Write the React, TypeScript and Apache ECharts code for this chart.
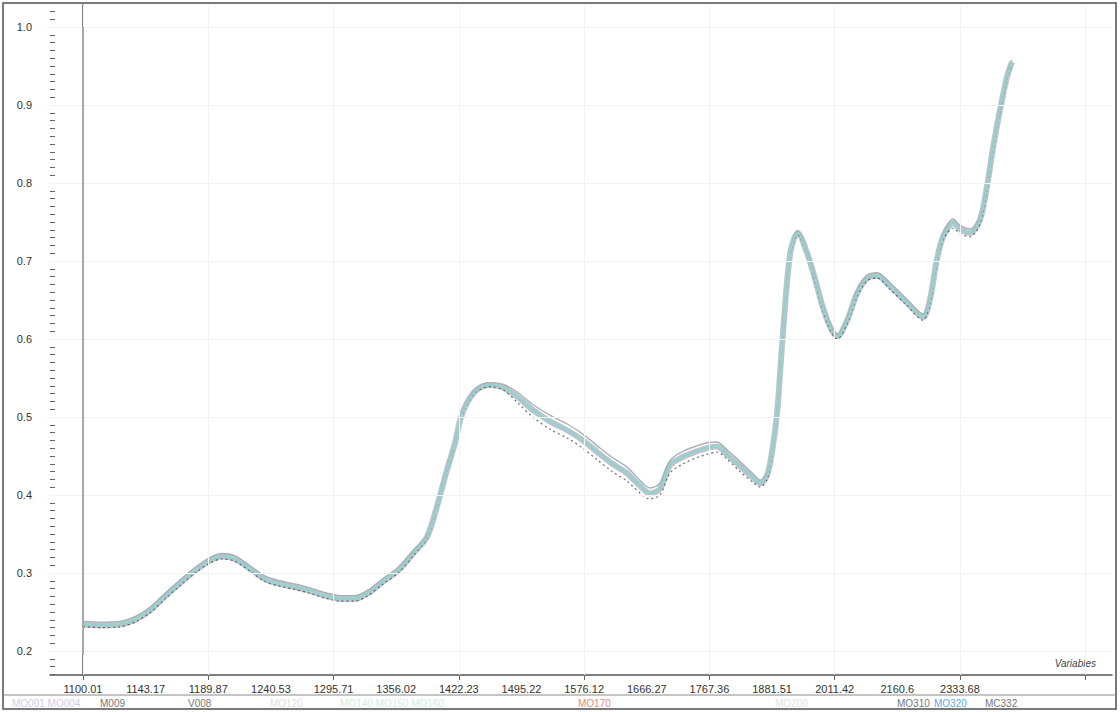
import React, { useEffect, useRef } from "react";
import * as echarts from "echarts";

// Variable index (position along the spectrum) of each sampled point
const variableIndex = [0, 2.7, 5.9, 8.3, 10.7, 13.1, 15.5, 17.9, 20.3, 22.2, 24.3, 26.7, 29.1, 31.4, 33.8, 36.2, 38.6, 41.0, 43.4, 45.5, 47.9, 50.3, 52.7, 54.9, 56.5, 58.1, 59.4, 60.2, 61.3, 62.9, 65.0, 67.0, 69.3, 71.8, 74.6, 77.3, 79.8, 82.1, 84.5, 86.8, 89.4, 90.5, 92.1, 93.7, 95.8, 98.0, 99.6, 101.2, 102.8, 104.9, 107.0, 108.1, 109.2, 110.0, 110.8, 111.7, 112.9, 114.1, 115.6, 116.9, 118.1, 119.3, 120.4, 122.0, 123.6, 125.2, 126.8, 128.8, 131.5, 134.1, 135.2, 136.3, 137.3, 138.9, 140.0, 141.6, 143.2, 144.3, 145.3, 146.4, 147.5, 148.3];

const meanSpectrum = [0.234, 0.233, 0.234, 0.240, 0.252, 0.270, 0.287, 0.303, 0.316, 0.321, 0.318, 0.305, 0.292, 0.286, 0.282, 0.277, 0.271, 0.267, 0.267, 0.274, 0.289, 0.303, 0.325, 0.346, 0.385, 0.432, 0.467, 0.496, 0.518, 0.535, 0.541, 0.538, 0.526, 0.509, 0.494, 0.483, 0.470, 0.455, 0.440, 0.428, 0.408, 0.402, 0.408, 0.438, 0.449, 0.456, 0.460, 0.462, 0.452, 0.437, 0.422, 0.415, 0.425, 0.455, 0.505, 0.603, 0.710, 0.736, 0.710, 0.676, 0.641, 0.615, 0.603, 0.624, 0.659, 0.678, 0.681, 0.668, 0.647, 0.628, 0.650, 0.701, 0.731, 0.749, 0.741, 0.736, 0.753, 0.795, 0.846, 0.894, 0.936, 0.955];

const lowSpectrum = [0.231, 0.230, 0.231, 0.237, 0.249, 0.267, 0.284, 0.300, 0.313, 0.318, 0.315, 0.302, 0.289, 0.283, 0.279, 0.274, 0.268, 0.264, 0.264, 0.271, 0.286, 0.300, 0.322, 0.344, 0.383, 0.430, 0.465, 0.494, 0.516, 0.533, 0.539, 0.535, 0.519, 0.500, 0.484, 0.473, 0.460, 0.445, 0.430, 0.418, 0.399, 0.395, 0.400, 0.428, 0.440, 0.448, 0.452, 0.455, 0.446, 0.430, 0.416, 0.410, 0.420, 0.452, 0.503, 0.600, 0.707, 0.733, 0.708, 0.672, 0.637, 0.611, 0.600, 0.620, 0.655, 0.675, 0.678, 0.664, 0.643, 0.624, 0.645, 0.697, 0.727, 0.742, 0.735, 0.731, 0.748, 0.790, 0.842, 0.890, 0.933, 0.952];

const highSpectrum = [0.238, 0.237, 0.238, 0.244, 0.256, 0.274, 0.291, 0.307, 0.320, 0.325, 0.322, 0.309, 0.296, 0.290, 0.286, 0.281, 0.275, 0.271, 0.271, 0.278, 0.293, 0.307, 0.328, 0.349, 0.388, 0.435, 0.470, 0.499, 0.521, 0.538, 0.544, 0.542, 0.532, 0.516, 0.502, 0.491, 0.478, 0.463, 0.448, 0.436, 0.415, 0.409, 0.415, 0.444, 0.456, 0.463, 0.467, 0.468, 0.458, 0.443, 0.427, 0.419, 0.429, 0.459, 0.508, 0.606, 0.713, 0.739, 0.713, 0.680, 0.645, 0.619, 0.606, 0.628, 0.663, 0.682, 0.685, 0.672, 0.651, 0.632, 0.654, 0.705, 0.735, 0.754, 0.746, 0.741, 0.757, 0.800, 0.850, 0.898, 0.939, 0.958];

// Tick labels (wavelengths) every 10 variables
const labelIndex = [0, 10, 20, 30, 40, 50, 60, 70, 80, 90, 100, 110, 120, 130, 140];
const wavelengthLabels = ["1100.01", "1143.17", "1189.87", "1240.53", "1295.71", "1356.02", "1422.23", "1495.22", "1576.12", "1666.27", "1767.36", "1881.51", "2011.42", "2160.6", "2333.68"];
const xTickIndex = [0, 20, 40, 60, 80, 100, 120, 140, 160];
const yTickValues = [0.2, 0.3, 0.4, 0.5, 0.6, 0.7, 0.8, 0.9, 1.0];

// Sample names in the legend strip
const legendNames = ["MO001 MO004", "M009", "V008", "MO120", "MO140 MO150 MO160", "MO170", "MO200", "MO310", "MO320", "MC332"];
const legendColors = ["#cfcbe8", "#777777", "#777777", "#dddddd", "#d3ece0", "#e08a8a", "#e2e2e2", "#777777", "#5aa8e6", "#777777"];
const legendX = [12, 100, 188, 270, 340, 578, 775, 897, 934, 985];

const FONT = "'Liberation Sans', Arial, sans-serif";

export default function App() {
  const ref = useRef<HTMLDivElement>(null);

  useEffect(() => {
    if (!ref.current) return;
    const chart = echarts.init(ref.current, null, { renderer: "svg" });

    const pts = (vals: number[]) => variableIndex.map((x, k) => [x, vals[k]]);
    const minorTicks: number[] = [];
    for (let k = 17; k <= 102; k++) minorTicks.push(k / 100);

    const gridLinesY = yTickValues.map((v) => ({ yAxis: v }));
    const gridLinesX = xTickIndex.map((v) => ({ xAxis: v }));

    const option: any = {
      animation: false,
      backgroundColor: "#ffffff",
      textStyle: { fontFamily: FONT },
      grid: { left: 50, top: 5, right: 8, bottom: 37 },
      xAxis: {
        type: "value",
        min: -5.27,
        max: 164.27,
        axisLine: { show: true, lineStyle: { color: "#555", width: 1.5 } },
        axisTick: { show: true, customValues: xTickIndex, length: 5, lineStyle: { color: "#666" } },
        axisLabel: {
          show: true,
          customValues: labelIndex,
          margin: 8,
          fontSize: 11,
          color: "#333",
          fontFamily: FONT,
          formatter: (v: number) => {
            const k = labelIndex.indexOf(Math.round(v));
            return k >= 0 ? wavelengthLabels[k] : "";
          },
        },
        splitLine: { show: false },
      },
      yAxis: [
        {
          type: "value",
          min: 0.1692,
          max: 1.0282,
          axisLine: { show: true, lineStyle: { color: "#555", width: 1.5 } },
          axisTick: { show: true, customValues: yTickValues, length: 10, lineStyle: { color: "#555" } },
          axisLabel: {
            show: true,
            customValues: yTickValues,
            margin: 18,
            fontSize: 11,
            color: "#333",
            fontFamily: FONT,
            formatter: (v: number) => v.toFixed(1),
          },
          splitLine: { show: false },
        },
        {
          type: "value",
          min: 0.1692,
          max: 1.0282,
          position: "left",
          axisLine: { show: false },
          axisTick: { show: true, inside: true, customValues: minorTicks, length: 5, lineStyle: { color: "#666" } },
          axisLabel: { show: false },
          splitLine: { show: false },
        },
      ],
      series: [
        {
          type: "line",
          name: "band",
          data: pts(meanSpectrum),
          showSymbol: false,
          smooth: 0.3,
          lineStyle: { color: "#a9b6be", width: 6, opacity: 0.8 },
          silent: true,
          markLine: {
            silent: true,
            symbol: "none",
            label: { show: false },
            lineStyle: { color: "#f3f3f3", width: 1, type: "solid" },
            data: [...gridLinesY, ...gridLinesX],
          },
          z: 1,
        },
        {
          type: "line",
          name: "high",
          data: pts(highSpectrum),
          showSymbol: false,
          smooth: 0.3,
          lineStyle: { color: "#aab0b4", width: 1.4 },
          silent: true,
          markLine: {
            silent: true,
            symbol: "none",
            label: { show: false },
            lineStyle: { color: "#a8a8a8", width: 2, type: "solid" },
            data: [[{ coord: [0, 1.0] }, { coord: [0, 0.195] }]],
          },
          z: 2,
        },
        {
          type: "line",
          name: "low",
          data: pts(lowSpectrum),
          showSymbol: false,
          smooth: 0.3,
          lineStyle: { color: "#3c3f42", width: 1.2, opacity: 0.75, type: [2, 3] },
          silent: true,
          z: 3,
        },
        {
          type: "line",
          name: "mean",
          data: pts(meanSpectrum),
          showSymbol: false,
          smooth: 0.3,
          lineStyle: { color: "#95d1ce", width: 2.2 },
          silent: true,
          z: 4,
        },
      ],
      graphic: [
        {
          type: "rect",
          shape: { x: 3, y: 3, width: 1113, height: 706 },
          style: { fill: "none", stroke: "#7a7a7a", lineWidth: 2 },
          silent: true,
        },
        {
          type: "line",
          shape: { x1: 3, y1: 695, x2: 1116, y2: 695 },
          style: { stroke: "#8a8a8a", lineWidth: 1 },
          silent: true,
        },
        {
          type: "text",
          x: 1096,
          y: 663,
          style: {
            text: "Variables",
            fontSize: 10,
            fontStyle: "italic",
            fontFamily: FONT,
            fill: "#444",
            textAlign: "right",
            textVerticalAlign: "middle",
          },
          silent: true,
        },
        ...legendNames.map((name, k) => ({
          type: "text",
          x: legendX[k],
          y: 703,
          style: {
            text: name,
            fontSize: 10,
            fontFamily: FONT,
            fill: legendColors[k],
            textAlign: "left",
            textVerticalAlign: "middle",
          },
          silent: true,
        })),
      ],
    };

    chart.setOption(option);
    return () => chart.dispose();
  }, []);

  return (
    <div
      ref={ref}
      style={{ position: "absolute", left: 0, top: 0, width: 1120, height: 712, background: "#fff" }}
    />
  );
}
